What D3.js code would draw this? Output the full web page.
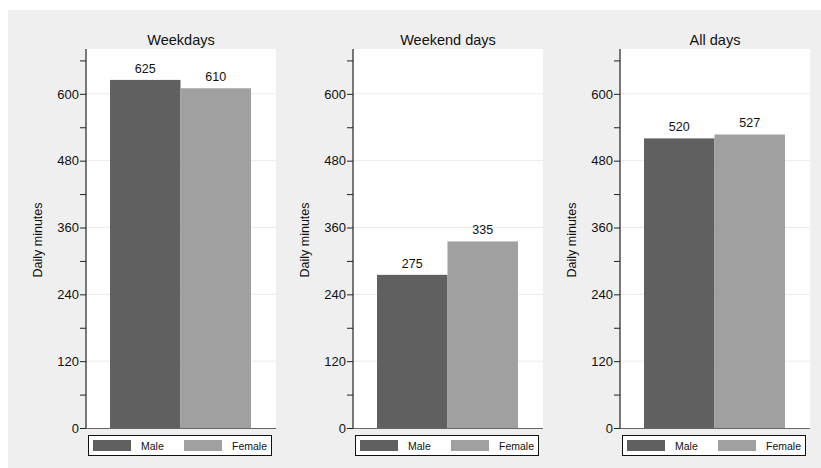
<!DOCTYPE html>
<html><head><meta charset="utf-8">
<script src="https://cdn.jsdelivr.net/npm/d3@7"></script>
<style>body{margin:0;background:#fff}svg{display:block;font-family:"Liberation Sans",Arial,Helvetica,sans-serif}</style>
</head><body><svg id="c" width="821" height="468"></svg>
<script>
const panels = ["Weekdays", "Weekend days", "All days"];
const groups = ["Male", "Female"];
const maleValues = [625, 275, 520];
const femaleValues = [610, 335, 527];
const majorTicks = [0, 120, 240, 360, 480, 600];
const minorTicks = [60, 180, 300, 420, 540, 660];
const colors = ["#606060", "#a0a0a0"];

const svg = d3.select("#c");
svg.append("rect").attr("x", 8).attr("y", 10).attr("width", 813).attr("height", 458).attr("fill", "#efefef");

const plotTop = 49, plotBottom = 428, plotW = 190, step = 267, x0 = 86;
const y = d3.scaleLinear().domain([0, 680.5]).range([plotBottom, plotTop]);

panels.forEach((title, i) => {
  const left = x0 + i * step;
  const g = svg.append("g").attr("transform", `translate(${left},0)`);
  g.append("rect").attr("x", 0).attr("y", plotTop).attr("width", plotW).attr("height", plotBottom - plotTop).attr("fill", "#fff");
  // grid
  g.selectAll("line.grid").data(majorTicks.filter(d => d > 0)).enter().append("line")
    .attr("x1", 0).attr("x2", plotW).attr("y1", d => y(d)).attr("y2", d => y(d))
    .attr("stroke", "#eaeaea").attr("stroke-width", 1);
  const vals = [maleValues[i], femaleValues[i]];
  const xb = d3.scaleBand().domain(groups).range([24, 165]).padding(0);
  g.selectAll("rect.bar").data(vals).enter().append("rect")
    .attr("x", (d, j) => xb(groups[j])).attr("width", xb.bandwidth())
    .attr("y", d => y(d)).attr("height", d => plotBottom - y(d))
    .attr("fill", (d, j) => colors[j]);
  g.selectAll("text.val").data(vals).enter().append("text")
    .attr("x", (d, j) => xb(groups[j]) + xb.bandwidth() / 2)
    .attr("y", d => y(d) - 7).attr("text-anchor", "middle")
    .attr("font-size", 12.5).attr("fill", "#111").text(d => d);
  // axis
  const ax = g.append("g").call(d3.axisLeft(y).tickValues(majorTicks).tickSize(6).tickPadding(1).tickFormat(d3.format("d")));
  ax.select(".domain").remove();
  ax.selectAll("text").attr("font-size", 13).attr("fill", "#111").attr("font-family", "Liberation Sans, Arial, sans-serif");
  ax.selectAll("line").attr("stroke", "#222");
  const axm = g.append("g").call(d3.axisLeft(y).tickValues(minorTicks).tickSize(6).tickFormat(""));
  axm.select(".domain").remove();
  axm.selectAll("line").attr("stroke", "#222");
  g.append("line").attr("x1", 0).attr("x2", 0).attr("y1", plotTop).attr("y2", plotBottom).attr("stroke", "#222").attr("stroke-width", 1.2);
  g.append("line").attr("x1", 0).attr("x2", plotW).attr("y1", plotBottom + 0.5).attr("y2", plotBottom + 0.5).attr("stroke", "#666").attr("stroke-width", 1);
  // title
  g.append("text").attr("x", plotW / 2).attr("y", 45).attr("text-anchor", "middle").attr("font-size", 14.5).attr("fill", "#111").text(title);
  // y label
  g.append("text").attr("transform", `translate(${-44},${240}) rotate(-90)`).attr("text-anchor", "middle")
    .attr("font-size", 12.5).attr("fill", "#111").text("Daily minutes");
  // legend
  const lg = g.append("g").attr("transform", `translate(2,435)`);
  lg.append("rect").attr("x", 0.5).attr("y", 0.5).attr("width", 183).attr("height", 20).attr("fill", "#fff").attr("stroke", "#111").attr("stroke-width", 1);
  const lx = [5, 96];
  groups.forEach((gname, j) => {
    lg.append("rect").attr("x", lx[j]).attr("y", 5).attr("width", 38).attr("height", 11).attr("fill", colors[j]);
  });
  lg.append("text").attr("x", 53).attr("y", 14.5).attr("font-size", 10.5).attr("fill", "#111").text(groups[0]);
  lg.append("text").attr("x", 179).attr("y", 14.5).attr("text-anchor", "end").attr("font-size", 10.5).attr("fill", "#111").text(groups[1]);
});
</script></body></html>
